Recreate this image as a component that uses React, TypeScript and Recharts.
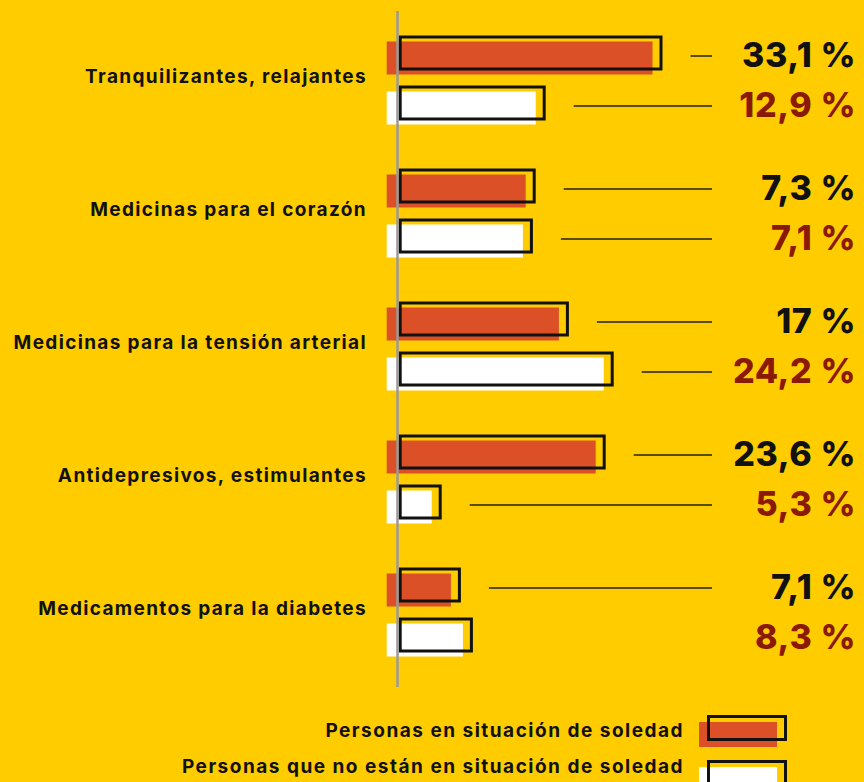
import React from "react";
import { BarChart, Bar, XAxis, YAxis, Legend } from "recharts";

// Categories (medication types)
const categories = [
  "Tranquilizantes, relajantes",
  "Medicinas para el corazón",
  "Medicinas para la tensión arterial",
  "Antidepresivos, estimulantes",
  "Medicamentos para la diabetes",
];

// Printed value labels
const lonelyLabels = ["33,1 %", "7,3 %", "17 %", "23,6 %", "7,1 %"];
const notLonelyLabels = ["12,9 %", "7,1 %", "24,2 %", "5,3 %", "8,3 %"];

// Bar lengths as drawn in the picture (percentage units, same scale as 33,1 %)
const lonelyBar = [32.6, 16.75, 20.9, 25.5, 7.4];
const notLonelyBar = [18, 16.4, 26.5, 5, 8.9];

// Series names
const seriesNames = [
  "Personas en situación de soledad",
  "Personas que no están en situación de soledad",
];

const data = categories.map((name, i) => ({
  name,
  lonely: lonelyBar[i],
  notLonely: notLonelyBar[i],
  lonelyLabel: lonelyLabels[i],
  notLonelyLabel: notLonelyLabels[i],
}));

const FONT = "Inter, 'Noto Sans', sans-serif";
const BG = "#FFCC00";
const ORANGE = "#DC5028";
const RED = "#8A1A05";
const LEADER_END = 712;
const LABEL_X = 856;

const makeShape = (labelKey: string, labelColor: string, skipLeader: number[]) => (props: any) => {
  const { x, y, width, height, fill, payload, index } = props;
  const ox = x + 2.7;
  const right = ox + width;
  const cy = y + height / 2;
  const ly = cy + 3;
  return (
    <g>
      <rect x={ox - 13.5} y={y + 4.5} width={width + 5} height={height + 1} fill={fill} />
      <rect x={ox} y={y} width={width} height={height} fill="none" stroke="#111" strokeWidth={3} />
      {skipLeader.indexOf(index) === -1 && (
        <line x1={right + 1.5 + 28} x2={LEADER_END} y1={ly} y2={ly} stroke="#222" strokeWidth={1.5} />
      )}
      <text
        x={LABEL_X}
        y={cy + 14}
        textAnchor="end"
        fontFamily={FONT}
        fontWeight={800}
        fontSize={34}
        letterSpacing={0.6}
        fill={labelColor}
      >
        {payload[labelKey]}
      </text>
    </g>
  );
};

const CategoryTick = (props: any) => {
  const { x, y, payload } = props;
  return (
    <text
      x={x}
      y={y + 5.5}
      textAnchor="end"
      fontFamily={FONT}
      fontWeight={700}
      fontSize={19}
      letterSpacing={1.35}
      fill="#111"
    >
      {payload.value}
    </text>
  );
};

const LegendContent = (props: any) => {
  const { payload } = props;
  return (
    <svg width={864} height={77} style={{ display: "block" }}>
      {(payload || []).map((entry: any, i: number) => {
        return (
          <g key={i}>
            <text
              x={684}
              y={32 + i * 36}
              textAnchor="end"
              fontFamily={FONT}
              fontWeight={700}
              fontSize={19}
              letterSpacing={1.5}
              fill="#111"
            >
              {entry.value}
            </text>
            <rect x={699} y={17 + i * 45} width={78} height={25} fill={entry.color} />
            <rect x={708.5} y={11.5 + i * 45} width={77} height={23} fill="none" stroke="#111" strokeWidth={3} />
          </g>
        );
      })}
    </svg>
  );
};

export default function App() {
  return (
    <div style={{ width: 864, height: 782, background: BG, position: "relative", overflow: "hidden" }}>
      <style>{`body{margin:0;background:${BG};}`}</style>
      <BarChart
        width={864}
        height={782}
        data={data}
        layout="vertical"
        margin={{ top: 11, right: 146.5, bottom: 95, left: 0 }}
        barSize={32}
        barGap={18}
      >
        <XAxis type="number" domain={[0, 40]} hide />
        <YAxis
          type="category"
          dataKey="name"
          width={397.5}
          padding={{ top: 0, bottom: 11 }}
          axisLine={{ stroke: "#9a9a9a", strokeWidth: 2.5 }}
          tickLine={false}
          tickMargin={24.5}
          tick={<CategoryTick />}
          interval={0}
        />
        <Legend
          layout="vertical"
          align="center"
          verticalAlign="middle"
          wrapperStyle={{ left: 0, top: 705, width: 864, height: 77 }}
          content={<LegendContent />}
        />
        <Bar
          dataKey="lonely"
          name={seriesNames[0]}
          fill={ORANGE}
          isAnimationActive={false}
          shape={makeShape("lonelyLabel", "#111", [])}
        />
        <Bar
          dataKey="notLonely"
          name={seriesNames[1]}
          fill="#FFFFFF"
          isAnimationActive={false}
          shape={makeShape("notLonelyLabel", RED, [4])}
        />
      </BarChart>
    </div>
  );
}
